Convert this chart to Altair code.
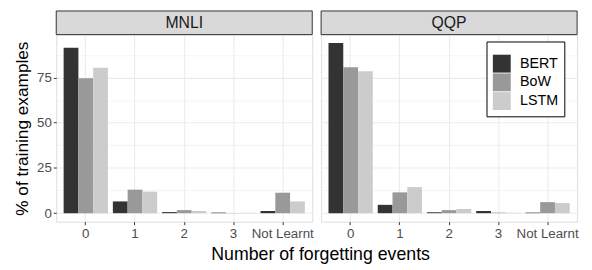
import altair as alt
import pandas as pd

events = ["0", "1", "2", "3", "Not Learnt"]
models = ["BERT", "BoW", "LSTM"]
datasets = ["MNLI", "QQP"]

mnli_bert = [91.4, 6.5, 0.6, 0.3, 1.2]
mnli_bow = [74.6, 13.0, 1.7, 0.1, 11.3]
mnli_lstm = [80.4, 11.9, 1.2, 0.2, 6.5]

qqp_bert = [94.0, 4.6, 0.5, 1.2, 0.3]
qqp_bow = [80.6, 11.5, 1.7, 0.3, 6.1]
qqp_lstm = [78.4, 14.4, 2.3, 0.2, 5.6]

series = {
    "MNLI": {"BERT": mnli_bert, "BoW": mnli_bow, "LSTM": mnli_lstm},
    "QQP": {"BERT": qqp_bert, "BoW": qqp_bow, "LSTM": qqp_lstm},
}

rows = []
for ds in datasets:
    for m in models:
        for e, v in zip(events, series[ds][m]):
            rows.append({"dataset": ds, "model": m, "event": e, "pct": v})
df = pd.DataFrame(rows)

FONT = "Liberation Sans"
PW, PH, STRIP = 260, 190, 24
ymax = max(df["pct"])
ydom = [-0.05 * ymax, ymax * 1.05]

xscale = alt.Scale(domain=events, paddingInner=0.1, paddingOuter=0.15)
yscale = alt.Scale(domain=ydom, nice=False, zero=False)
cscale = alt.Scale(domain=models, range=["#333333", "#999999", "#CCCCCC"])

major = "abs(datum.value % 25) < 0.001"


def panel(ds, first):
    yaxis = alt.Axis(
        values=[0, 12.5, 25, 37.5, 50, 62.5, 75, 87.5],
        labelExpr=f"{major} ? datum.label : ''" if first else "''",
        labels=first,
        gridColor="#EBEBEB",
        gridWidth={"condition": {"test": major, "value": 1.1}, "value": 0.55},
        tickSize={"condition": {"test": major, "value": 3}, "value": 0} if first else 0,
        ticks=first,
        tickColor="#333333",
        domain=False,
        labelColor="#4D4D4D",
        labelFontSize=13.5,
        labelFont=FONT,
        labelPadding=2,
        title="% of training examples" if first else None,
        titleFont=FONT,
        titleFontSize=17.5,
        titleFontWeight="normal",
        titleColor="#000000",
        titlePadding=5,
    )
    xaxis = alt.Axis(
        title=None,
        labelAngle=0,
        bandPosition=0.5,
        grid=True,
        gridColor="#EBEBEB",
        gridWidth=1.1,
        domain=False,
        tickColor="#333333",
        tickSize=3,
        labelColor="#4D4D4D",
        labelFontSize=13.5,
        labelFont=FONT,
        labelPadding=2,
    )
    sub = df[df["dataset"] == ds]
    bars = alt.Chart(sub).mark_bar(width={"band": 1}).encode(
        x=alt.X("event:N", scale=xscale, axis=xaxis, sort=events),
        xOffset=alt.XOffset("model:N", scale=alt.Scale(domain=models, paddingInner=0, paddingOuter=0)),
        y=alt.Y("pct:Q", scale=yscale, axis=yaxis),
        color=alt.Color(
            "model:N",
            scale=cscale,
            legend=alt.Legend(
                title=" ",
                titleFontSize=6,
                titlePadding=1,
                orient="none",
                legendX=437,
                legendY=7,
                symbolType="square",
                symbolSize=330,
                symbolStrokeWidth=0,
                symbolOpacity=1,
                rowPadding=0,
                labelFontSize=14.5,
                labelFont=FONT,
                labelColor="#000000",
                labelOffset=9,
                strokeColor="#000000",
                fillColor="#FFFFFF",
                padding=6,
                offset=0,
            ),
        ),
    )
    strip_df = pd.DataFrame({"t": [ds]})
    strip = alt.Chart(strip_df).mark_rect(fill="#D9D9D9", stroke="#333333", strokeWidth=1).encode(
        x=alt.value(0), x2=alt.value(PW), y=alt.value(-STRIP), y2=alt.value(0)
    )
    stext = alt.Chart(strip_df).mark_text(font=FONT, fontSize=16, color="#1A1A1A", baseline="middle").encode(
        x=alt.value(PW / 2), y=alt.value(-STRIP / 2), text="t:N"
    )
    return alt.layer(bars, strip, stext).properties(width=PW, height=PH)


chart = alt.hconcat(panel("MNLI", True), panel("QQP", False), spacing=6).properties(
    padding={"left": 5, "top": 0, "right": 5, "bottom": 0},
    title=alt.TitleParams(
        "Number of forgetting events",
        orient="bottom",
        anchor="middle",
        fontSize=18,
        font=FONT,
        fontWeight="normal",
        color="#000000",
        dx=25,
        offset=6,
    ),
).configure_view(stroke="#333333", strokeWidth=1).configure(background="white")

chart.save("out.html", embed_options={"renderer": "svg", "actions": False})
